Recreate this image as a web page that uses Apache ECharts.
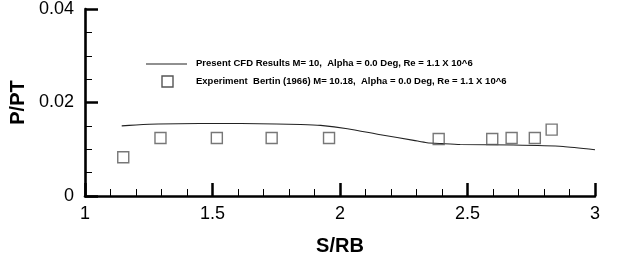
<!DOCTYPE html>
<html><head><meta charset="utf-8">
<script src="https://cdn.jsdelivr.net/npm/echarts@6/dist/echarts.min.js"></script>
<style>html,body{margin:0;padding:0;background:#fff}#c{width:617px;height:261px}</style>
</head><body><div id="c"></div>
<script>
var cfdX = [1.144, 1.2, 1.287, 1.45, 1.612, 1.75, 1.846, 1.924, 2.029, 2.159, 2.289, 2.341, 2.40, 2.471, 2.68, 2.875, 3.0];
var cfdY = [0.0150, 0.0152, 0.0154, 0.0155, 0.0155, 0.0154, 0.0153, 0.0151, 0.0144, 0.0131, 0.0119, 0.0114, 0.0112, 0.0110, 0.0109, 0.0106, 0.0099];
var expX = [1.15, 1.296, 1.517, 1.732, 1.957, 2.387, 2.597, 2.673, 2.764, 2.83];
var expY = [0.0083, 0.0124, 0.0124, 0.0124, 0.0124, 0.0122, 0.0122, 0.0124, 0.0124, 0.0142];
var xTicks = [1, 1.5, 2, 2.5, 3];
var yTicks = [0, 0.02, 0.04];
var legendNames = ['Present CFD Results M= 10,  Alpha = 0.0 Deg, Re = 1.1 X 10^6',
                   'Experiment  Bertin (1966) M= 10.18,  Alpha = 0.0 Deg, Re = 1.1 X 10^6'];

var FONT = 'Liberation Sans';
var chart = echarts.init(document.getElementById('c'));
function pairs(xs, ys){ return xs.map(function(x,i){return [x, ys[i]];}); }
var axisCommon = {
  axisLine: {show: true, lineStyle: {color: '#000', width: 2.6}},
  axisTick: {show: true, inside: true, length: 13, lineStyle: {color: '#000', width: 2.5}},
  minorTick: {show: true, length: 7, lineStyle: {color: '#000', width: 1}},
  splitLine: {show: false},
  axisLabel: {color: '#000', fontFamily: FONT, fontSize: 18, margin: 11},
  nameTextStyle: {color: '#000', fontFamily: FONT, fontSize: 20, fontWeight: 'bold'}
};
chart.setOption({
  animation: false,
  backgroundColor: '#fff',
  grid: {left: 83, right: 22, top: 7, bottom: 61, containLabel: false},
  xAxis: Object.assign({}, axisCommon, {
    type: 'value', min: xTicks[0], max: xTicks[xTicks.length-1], interval: 0.5,
    minorTick: Object.assign({}, axisCommon.minorTick, {splitNumber: 5}),
    name: 'S/RB', nameLocation: 'middle', nameGap: 40,
    axisLabel: Object.assign({}, axisCommon.axisLabel, {margin: 9})
  }),
  yAxis: Object.assign({}, axisCommon, {
    type: 'value', min: yTicks[0], max: yTicks[yTicks.length-1], interval: 0.02,
    minorTick: Object.assign({}, axisCommon.minorTick, {splitNumber: 4}),
    name: 'P/PT', nameLocation: 'middle', nameGap: 57, nameRotate: 90
  }),
  series: [
    {type: 'line', name: legendNames[0], data: pairs(cfdX, cfdY), showSymbol: false, smooth: 0.2,
     lineStyle: {color: '#222', width: 1.1}, z: 3},
    {type: 'scatter', name: legendNames[1], data: pairs(expX, expY), symbol: 'rect', symbolSize: 11,
     itemStyle: {color: 'rgba(255,255,255,0)', borderColor: '#555', borderWidth: 1.4}, z: 4}
  ],
  graphic: [
    {type: 'line', shape: {x1: 146, y1: 64, x2: 187, y2: 64}, style: {stroke: '#222', lineWidth: 1.1}},
    {type: 'rect', shape: {x: 162, y: 76, width: 11, height: 11}, style: {fill: 'none', stroke: '#555', lineWidth: 1.4}},
    {type: 'text', x: 196, y: 64, scaleX: 1.08, style: {text: legendNames[0], fill: '#000', font: 'bold 8.8px "Liberation Sans"', verticalAlign: 'middle'}},
    {type: 'text', x: 196, y: 81.5, scaleX: 1.08, style: {text: legendNames[1], fill: '#000', font: 'bold 8.8px "Liberation Sans"', verticalAlign: 'middle'}}
  ]
});
</script></body></html>
